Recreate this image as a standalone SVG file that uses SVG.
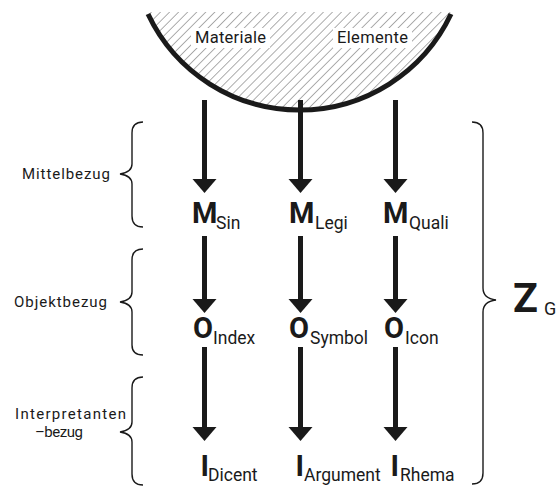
<svg xmlns="http://www.w3.org/2000/svg" width="558" height="486" viewBox="0 0 558 486">
  <style>
    text { font-family: "Roboto", "Liberation Sans", sans-serif; fill: #1a1a1a; }
    .lbl { font-size: 15px; }
    .bowl-lbl { font-size: 16.5px; }
    .big { font-size: 29px; font-weight: bold; }
    .sub { font-size: 17.5px; }
    .brace { fill: none; stroke: #1a1a1a; stroke-width: 1.4; }
    .shaft { stroke: #1a1a1a; stroke-width: 5; }
    .head { fill: #1a1a1a; }
  </style>
  <defs>
    <pattern id="hatch" patternUnits="userSpaceOnUse" width="6.4" height="6.4" patternTransform="rotate(45)">
      <line x1="0" y1="0" x2="0" y2="6.4" stroke="#333" stroke-width="0.8"/>
    </pattern>
    <clipPath id="bowlClip">
      <path d="M148,12 L451,12 A167.5,167.5 0 0 1 148,12 Z"/>
    </clipPath>
  </defs>

  <!-- material bowl -->
  <g id="bowl">
    <rect x="140" y="10" width="320" height="110" fill="url(#hatch)" clip-path="url(#bowlClip)"/>
    <rect x="191" y="28" width="79" height="20" fill="#fff"/>
    <rect x="333" y="28" width="79" height="20" fill="#fff"/>
    <path d="M148,14 A167.5,167.5 0 0 0 451,14" fill="none" stroke="#1a1a1a" stroke-width="5"/>
    <text class="bowl-lbl" x="195" y="43" textLength="71">Materiale</text>
    <text class="bowl-lbl" x="337" y="43" textLength="71">Elemente</text>
  </g>

  <!-- arrows -->
  <g id="connectors">
    <line class="shaft" x1="204.5" y1="100" x2="204.5" y2="182"/>
    <polygon class="head" points="192.5,179 216.5,179 204.5,193"/>
    <line class="shaft" x1="300.5" y1="100" x2="300.5" y2="182"/>
    <polygon class="head" points="288.5,179 312.5,179 300.5,193"/>
    <line class="shaft" x1="395.5" y1="100" x2="395.5" y2="182"/>
    <polygon class="head" points="383.5,179 407.5,179 395.5,193"/>

    <line class="shaft" x1="204.5" y1="236" x2="204.5" y2="302"/>
    <polygon class="head" points="192.5,299 216.5,299 204.5,313"/>
    <line class="shaft" x1="300.5" y1="236" x2="300.5" y2="302"/>
    <polygon class="head" points="288.5,299 312.5,299 300.5,313"/>
    <line class="shaft" x1="395.5" y1="236" x2="395.5" y2="302"/>
    <polygon class="head" points="383.5,299 407.5,299 395.5,313"/>

    <line class="shaft" x1="204.5" y1="347" x2="204.5" y2="430"/>
    <polygon class="head" points="192.5,427 216.5,427 204.5,441"/>
    <line class="shaft" x1="300.5" y1="347" x2="300.5" y2="430"/>
    <polygon class="head" points="288.5,427 312.5,427 300.5,441"/>
    <line class="shaft" x1="395.5" y1="347" x2="395.5" y2="430"/>
    <polygon class="head" points="383.5,427 407.5,427 395.5,441"/>
  </g>

  <!-- Mittel row -->
  <g id="m-sin"><text class="big" x="192" y="223" textLength="22">M</text><text class="sub" x="216" y="229">Sin</text></g>
  <g id="m-legi"><text class="big" x="289" y="223" textLength="22">M</text><text class="sub" x="315" y="229">Legi</text></g>
  <g id="m-quali"><text class="big" x="383" y="223" textLength="22">M</text><text class="sub" x="409" y="229">Quali</text></g>

  <!-- Objekt row -->
  <g id="o-index"><text class="big" x="193" y="338" textLength="19">O</text><text class="sub" x="213" y="344">Index</text></g>
  <g id="o-symbol"><text class="big" x="289" y="338" textLength="19">O</text><text class="sub" x="310" y="344">Symbol</text></g>
  <g id="o-icon"><text class="big" x="384" y="338" textLength="19">O</text><text class="sub" x="405" y="344">Icon</text></g>

  <!-- Interpretanten row -->
  <g id="i-dicent"><text class="big" x="200.5" y="476">I</text><text class="sub" x="208" y="481">Dicent</text></g>
  <g id="i-argument"><text class="big" x="295.5" y="476">I</text><text class="sub" x="304" y="481">Argument</text></g>
  <g id="i-rhema"><text class="big" x="390.5" y="476">I</text><text class="sub" x="400" y="481">Rhema</text></g>

  <!-- left braces with labels -->
  <g id="mittelbezug">
    <path class="brace" d="M143,122 C136,122 132,126 132,133 L132,164 C132,170 127,173 120,174 C127,175 132,178 132,184 L132,216 C132,223 136,227 143,227"/>
    <text class="lbl" x="22" y="179" textLength="88">Mittelbezug</text>
  </g>
  <g id="objektbezug">
    <path class="brace" d="M143,249 C136,249 132,253 132,260 L132,292 C132,298 127,301 120,302 C127,303 132,306 132,312 L132,345 C132,352 136,355 143,355"/>
    <text class="lbl" x="14" y="307" textLength="93">Objektbezug</text>
  </g>
  <g id="interpretantenbezug">
    <path class="brace" d="M143,377 C136,377 132,381 132,388 L132,422 C132,428 127,431 120,432 C127,433 132,436 132,442 L132,474 C132,481 136,485 143,485"/>
    <text class="lbl" x="15" y="419" textLength="111">Interpretanten</text>
    <text class="lbl" x="35" y="437" textLength="48">–bezug</text>
  </g>

  <!-- right brace with Z_G -->
  <g id="zeichen">
    <path class="brace" d="M472,122 C479,122 483,126 483,133 L483,288 C483,295 488,299 496,300 C488,301 483,305 483,312 L483,473 C483,480 479,484 472,484"/>
    <text x="513" y="312" textLength="31" style="font-size:41px;font-weight:bold">Z</text>
    <text x="544" y="315" textLength="12" style="font-size:18px">G</text>
  </g>
</svg>
